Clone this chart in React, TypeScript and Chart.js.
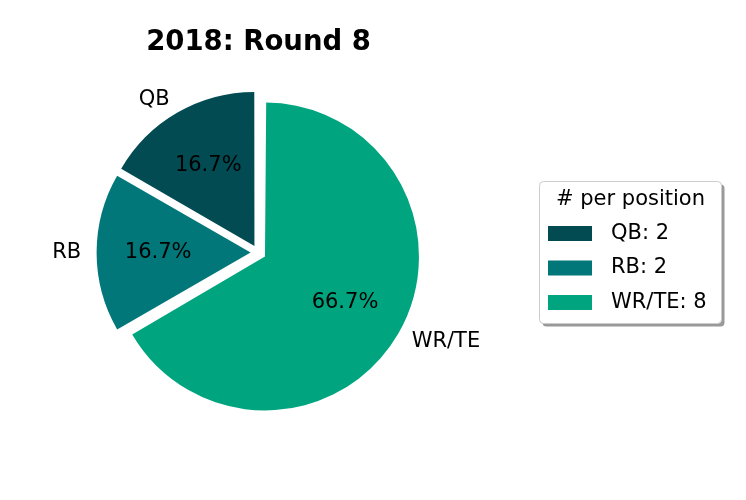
import React, { useEffect, useRef } from "react";
import { Chart, registerables } from "chart.js";

Chart.register(...registerables);

const chartTitle = "2018: Round 8";
const positions = ["QB", "RB", "WR/TE"];
const counts = [2, 2, 8];
const colors = ["#024b53", "#01777a", "#00a57f"];
const explode = [0.05, 0.05, 0.05];
const legendTitle = "# per position";

const FONT = "'DejaVu Sans', sans-serif";
const RADIUS = 154;

export default function App() {
  const ref = useRef<HTMLCanvasElement | null>(null);

  useEffect(() => {
    const canvas = ref.current;
    if (!canvas) return;
    const total = counts.reduce((a, b) => a + b, 0);
    // Chart.js draws clockwise from the top; matplotlib counter-clockwise, so reverse.
    const order = positions.map((_, i) => i).reverse();

    const textPlugin = {
      id: "pieText",
      beforeDatasetsDraw(chart: any) {
        // keep every wedge at the same radius despite Chart.js' offset radius growth
        const meta = chart.getDatasetMeta(0);
        meta.data.forEach((arc: any) => {
          const off = (arc.options.offset || 0) / 4;
          const fix = 1 - Math.sin(Math.min(Math.PI, arc.circumference || 0));
          arc.outerRadius = RADIUS - off * fix;
        });
      },
      afterDatasetsDraw(chart: any) {
        const ctx = chart.ctx as CanvasRenderingContext2D;
        const meta = chart.getDatasetMeta(0);
        ctx.save();
        ctx.fillStyle = "#000";
        ctx.font = `21px ${FONT}`;
        ctx.textBaseline = "middle";
        meta.data.forEach((arc: any, j: number) => {
          const idx = order[j];
          const { x, y, startAngle, endAngle } = arc.getProps(["x", "y", "startAngle", "endAngle"], true);
          const off = (arc.options.offset || 0) / 4;
          const mid = (startAngle + endAngle) / 2;
          const cx = x + Math.cos(mid) * off;
          const cy = y + Math.sin(mid) * off;
          const pct = ((counts[idx] / total) * 100).toFixed(1) + "%";
          ctx.textAlign = "center";
          ctx.fillText(pct, cx + Math.cos(mid) * RADIUS * 0.6, cy + Math.sin(mid) * RADIUS * 0.6);
          const lx = cx + Math.cos(mid) * RADIUS * 1.1;
          const ly = cy + Math.sin(mid) * RADIUS * 1.1;
          ctx.textAlign = Math.cos(mid) >= 0 ? "left" : "right";
          ctx.fillText(positions[idx], lx, ly);
        });
        ctx.restore();
      },
      afterDraw(chart: any) {
        const ctx = chart.ctx as CanvasRenderingContext2D;
        ctx.save();
        // title
        ctx.fillStyle = "#000";
        ctx.font = `bold 27.5px ${FONT}`;
        ctx.textAlign = "center";
        ctx.textBaseline = "middle";
        ctx.fillText(chartTitle, 258.5, 43);

        // legend
        const bx = 539.5, by = 181.5, bw = 182, bh = 142;
        const rr = (x: number, y: number, w: number, h: number, r: number) => {
          ctx.beginPath();
          ctx.moveTo(x + r, y);
          ctx.lineTo(x + w - r, y);
          ctx.quadraticCurveTo(x + w, y, x + w, y + r);
          ctx.lineTo(x + w, y + h - r);
          ctx.quadraticCurveTo(x + w, y + h, x + w - r, y + h);
          ctx.lineTo(x + r, y + h);
          ctx.quadraticCurveTo(x, y + h, x, y + h - r);
          ctx.lineTo(x, y + r);
          ctx.quadraticCurveTo(x, y, x + r, y);
          ctx.closePath();
        };
        rr(bx + 3, by + 3, bw, bh, 4);
        ctx.fillStyle = "rgba(0,0,0,0.4)";
        ctx.fill();
        rr(bx, by, bw, bh, 4);
        ctx.fillStyle = "#ffffff";
        ctx.fill();
        ctx.strokeStyle = "#cccccc";
        ctx.lineWidth = 1;
        ctx.stroke();

        ctx.fillStyle = "#000";
        ctx.font = `21px ${FONT}`;
        ctx.textAlign = "center";
        ctx.fillText(legendTitle, bx + bw / 2, 200);
        const rowY = [233.5, 268, 302.5];
        positions.forEach((p, i) => {
          ctx.fillStyle = colors[i];
          ctx.fillRect(548, rowY[i] - 7.5, 44, 15);
          ctx.fillStyle = "#000";
          ctx.textAlign = "left";
          ctx.fillText(`${p}: ${counts[i]}`, 611, rowY[i]);
        });
        ctx.restore();
      },
    };

    const chart = new Chart(canvas, {
      type: "pie",
      data: {
        labels: order.map((i) => positions[i]),
        datasets: [
          {
            data: order.map((i) => counts[i]),
            backgroundColor: order.map((i) => colors[i]),
            offset: order.map((i) => explode[i] * RADIUS * 4),
            borderWidth: 0,
          } as any,
        ],
      },
      options: {
        responsive: false,
        animation: false,
        events: [],
        radius: RADIUS,
        layout: { padding: { left: 0, right: 229.4, top: 5.2, bottom: 0 } },
        plugins: {
          legend: { display: false },
          title: { display: false },
          tooltip: { enabled: false },
        },
      } as any,
      plugins: [textPlugin],
    });
    return () => chart.destroy();
  }, []);

  return (
    <div style={{ position: "fixed", left: 0, top: 0, width: 746, height: 500, background: "#fff" }}>
      <canvas ref={ref} width={746} height={500} style={{ display: "block" }} />
    </div>
  );
}
